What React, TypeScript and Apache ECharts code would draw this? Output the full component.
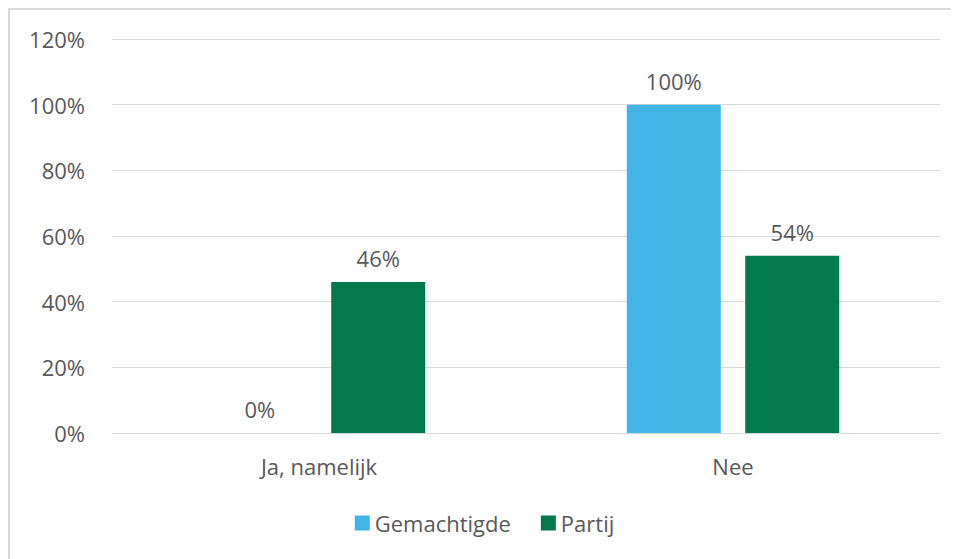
import React, { useEffect, useRef } from "react";
import * as echarts from "echarts";

const categories = ["Ja, namelijk", "Nee"];
const gemachtigde = [0, 100];
const partij = [46, 54];
const yTicks = [0, 20, 40, 60, 80, 100, 120];

const FONT = "'Open Sans', 'Noto Sans', sans-serif";
const TXT = "#595959";
const FS = 22;

export default function App() {
  const ref = useRef<HTMLDivElement>(null);
  useEffect(() => {
    const chart = echarts.init(ref.current!, null, { renderer: "svg" });
    const label = {
      show: true,
      position: "top",
      distance: 13,
      color: TXT,
      fontSize: FS,
      fontFamily: FONT,
      formatter: (p: any) => p.value + "%",
    };
    chart.setOption({
      animation: false,
      textStyle: { fontFamily: FONT },
      grid: { left: 102, right: 19, top: 29, bottom: 126, containLabel: false },
      legend: {
        bottom: 20,
        left: "center",
        itemWidth: 15,
        itemHeight: 15,
        itemGap: 30,
        icon: "rect",
        textStyle: { color: TXT, fontSize: FS, fontFamily: FONT },
        data: ["Gemachtigde", "Partij"],
      },
      xAxis: {
        type: "category",
        data: categories,
        axisLine: { lineStyle: { color: "#d9d9d9", width: 1 } },
        axisTick: { show: false },
        axisLabel: { color: TXT, fontSize: FS, fontFamily: FONT, margin: 22 },
      },
      yAxis: {
        type: "value",
        min: yTicks[0],
        max: yTicks[yTicks.length - 1],
        interval: 20,
        axisLine: { show: false },
        axisTick: { show: false },
        splitLine: { lineStyle: { color: "#d9d9d9", width: 1 } },
        axisLabel: {
          color: TXT,
          fontSize: FS,
          fontFamily: FONT,
          margin: 27,
          formatter: (v: number) => v + "%",
        },
      },
      series: [
        {
          name: "Gemachtigde",
          type: "bar",
          data: gemachtigde,
          barWidth: 94,
          barGap: "26%",
          itemStyle: { color: "#41B6E6" },
          label,
        },
        {
          name: "Partij",
          type: "bar",
          data: partij,
          barWidth: 94,
          barGap: "26%",
          itemStyle: { color: "#007A4D" },
          label,
        },
      ],
    });
    return () => chart.dispose();
  }, []);
  return (
    <div
      ref={ref}
      style={{
        width: 951,
        height: 551,
        boxSizing: "border-box",
        borderLeft: "2px solid #d9d9d9",
        borderTop: "2px solid #d9d9d9",
        overflow: "hidden",
      }}
    />
  );
}
